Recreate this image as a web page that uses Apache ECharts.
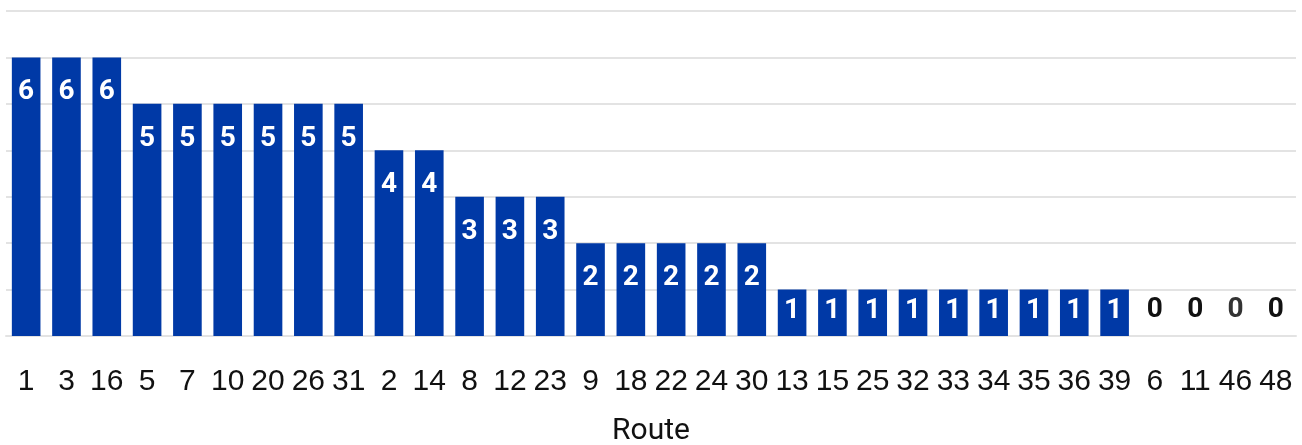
<!DOCTYPE html>
<html>
<head>
<meta charset="utf-8">
<script src="https://cdn.jsdelivr.net/npm/echarts@6/dist/echarts.min.js"></script>
<style>
html,body{margin:0;padding:0;background:#fff;overflow:hidden;}
#chart{width:1302px;height:445px;}
</style>
</head>
<body>
<div id="chart"></div>
<script>
const routes = ['1','3','16','5','7','10','20','26','31','2','14','8','12','23','9','18','22','24','30','13','15','25','32','33','34','35','36','39','6','11','46','48'];
const counts = [6,6,6,5,5,5,5,5,5,4,4,3,3,3,2,2,2,2,2,1,1,1,1,1,1,1,1,1,0,0,0,0];
const axisName = 'Route';

const BAR = '#0039A6';
const LABEL_FONT = "'Liberation Sans', Roboto, sans-serif";
const BOLD_FONT = "Roboto, 'DejaVu Sans', sans-serif";

const seriesData = counts.map((v, i) => {
  let label;
  if (v === 0) {
    label = { position: 'top', distance: 12, color: i === 30 ? '#333333' : '#111111' };
  } else if (v === 1) {
    label = { position: 'insideTop', distance: 7, color: '#ffffff' };
  } else {
    label = { position: 'insideTop', distance: 21, color: '#ffffff' };
  }
  return { value: v, label };
});

const chart = echarts.init(document.getElementById('chart'), null, { renderer: 'canvas', width: 1302, height: 445 });
chart.setOption({
  animation: false,
  grid: { left: 6, right: 6, top: 11, bottom: 109, containLabel: false, outerBoundsMode: 'none' },
  xAxis: {
    type: 'category',
    data: routes,
    name: axisName,
    nameLocation: 'middle',
    nameGap: 80,
    nameTextStyle: { fontFamily: BOLD_FONT, fontSize: 30, color: '#111111' },
    axisLine: { show: true, lineStyle: { color: '#e3e3e3', width: 2 } },
    axisTick: { show: false },
    axisLabel: { interval: 0, margin: 31, fontFamily: LABEL_FONT, fontSize: 30, color: '#111111' }
  },
  yAxis: {
    type: 'value',
    min: 0, max: 7, interval: 1,
    axisLabel: { show: false },
    axisLine: { show: false },
    axisTick: { show: false },
    splitLine: { lineStyle: { color: '#e3e3e3', width: 2 } }
  },
  series: [{
    type: 'bar',
    data: seriesData,
    barCategoryGap: '29%',
    itemStyle: { color: BAR },
    label: { show: true, fontFamily: BOLD_FONT, fontWeight: 'bold', fontSize: 28 }
  }]
});
</script>
</body>
</html>
